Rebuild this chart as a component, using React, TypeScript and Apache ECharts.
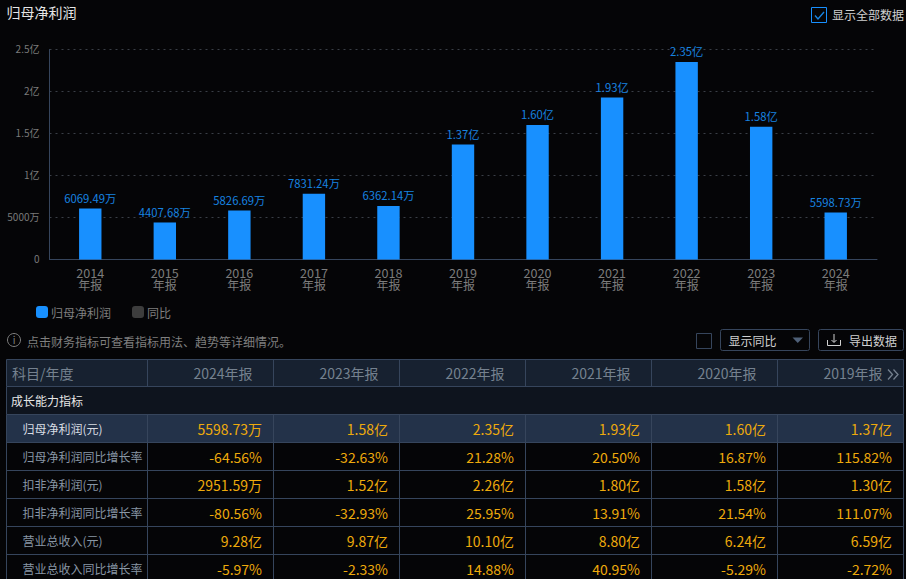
import React, { useEffect, useRef } from "react";
import * as echarts from "echarts";

const categories = ["2014", "2015", "2016", "2017", "2018", "2019", "2020", "2021", "2022", "2023", "2024"];
const profitWan = [6069.49, 4407.68, 5826.69, 7831.24, 6362.14, 13700, 16000, 19300, 23500, 15800, 5598.73];
const yearHeaders = ["2024年报", "2023年报", "2022年报", "2021年报", "2020年报", "2019年报"];
const rowNames = ["归母净利润(元)", "归母净利润同比增长率", "扣非净利润(元)", "扣非净利润同比增长率", "营业总收入(元)", "营业总收入同比增长率"];
const row1 = ["5598.73万", "1.58亿", "2.35亿", "1.93亿", "1.60亿", "1.37亿"];
const row2 = ["-64.56%", "-32.63%", "21.28%", "20.50%", "16.87%", "115.82%"];
const row3 = ["2951.59万", "1.52亿", "2.26亿", "1.80亿", "1.58亿", "1.30亿"];
const row4 = ["-80.56%", "-32.93%", "25.95%", "13.91%", "21.54%", "111.07%"];
const row5 = ["9.28亿", "9.87亿", "10.10亿", "8.80亿", "6.24亿", "6.59亿"];
const row6 = ["-5.97%", "-2.33%", "14.88%", "40.95%", "-5.29%", "-2.72%"];
const rows = [row1, row2, row3, row4, row5, row6];

const FONT = "'Noto Sans CJK SC', 'Noto Sans', sans-serif";
const LINE = "#36455c";
const colX = [6.5, 147.5, 273.5, 399.5, 525.5, 651.5, 777.5, 903.5];
const rowY = [359.5, 386.5, 414.5, 442.5, 470.5, 498.5, 526.5, 554.5, 582.5];

const fmtWan = (v: number) => (v >= 10000 ? (v / 10000).toFixed(2) + "亿" : v.toFixed(2) + "万");
const fmtTick = (v: number) => (v === 0 ? "0" : v >= 10000 ? v / 10000 + "亿" : v + "万");

const txt = (x: number, y: number, text: string, fill: string, fontSize = 12, align = "left") => ({
  type: "text",
  x,
  y,
  silent: true,
  style: { text, fill, fontSize, fontFamily: FONT, align, verticalAlign: "middle" },
});
const rect = (x: number, y: number, width: number, height: number, style: any, r = 0) => ({
  type: "rect",
  silent: true,
  shape: { x, y, width, height, r },
  style,
});
const seg = (x1: number, y1: number, x2: number, y2: number, stroke = LINE) => ({
  type: "line",
  silent: true,
  shape: { x1, y1, x2, y2 },
  style: { stroke, lineWidth: 1 },
});

function buildGraphic() {
  const g: any[] = [];
  // 标题与顶部复选框
  g.push(txt(6.5, 12, "归母净利润", "#e6e6e6", 14));
  g.push(rect(811.5, 7.5, 15, 15, { fill: "none", stroke: "#1890ff", lineWidth: 1 }));
  g.push({ type: "polyline", silent: true, shape: { points: [[815, 15.5], [818, 19], [824, 12]] }, style: { stroke: "#1783e0", fill: "none", lineWidth: 1.4 } });
  g.push(txt(832, 14.5, "显示全部数据", "#d0d0d0", 12));
  // 提示行
  g.push({ type: "circle", silent: true, shape: { cx: 14, cy: 340, r: 6.5 }, style: { fill: "none", stroke: "#7f7f7f", lineWidth: 1 } });
  g.push(txt(14, 339.5, "i", "#7f7f7f", 10, "center"));
  g.push(txt(27, 341, "点击财务指标可查看指标用法、趋势等详细情况。", "#7f7f7f", 12));
  // 工具按钮
  g.push(rect(696.5, 333.5, 15, 15, { fill: "none", stroke: LINE, lineWidth: 1 }));
  g.push(rect(720.5, 329.5, 89, 21, { fill: "none", stroke: LINE, lineWidth: 1 }, 2));
  g.push(txt(728.5, 340.5, "显示同比", "#d0d0d0", 12));
  g.push({ type: "polygon", silent: true, shape: { points: [[792.5, 337.5], [803, 337.5], [797.75, 343]] }, style: { fill: "#4f6078" } });
  g.push(rect(818.5, 329.5, 85, 21, { fill: "none", stroke: LINE, lineWidth: 1 }, 2));
  g.push({ type: "polyline", silent: true, shape: { points: [[827.5, 340], [827.5, 345.5], [840.5, 345.5], [840.5, 340]] }, style: { stroke: "#d0d0d0", fill: "none", lineWidth: 1 } });
  g.push(seg(834, 334, 834, 342, "#d0d0d0"));
  g.push({ type: "polyline", silent: true, shape: { points: [[831.5, 340], [834, 342.5], [836.5, 340]] }, style: { stroke: "#d0d0d0", fill: "none", lineWidth: 1 } });
  g.push(txt(849, 340.5, "导出数据", "#d0d0d0", 12));
  // 表格背景
  const tableW = colX[colX.length - 1] - colX[0];
  g.push(rect(colX[0], rowY[0], tableW, rowY[1] - rowY[0], { fill: "#172130" }));
  g.push(rect(colX[0], rowY[1], tableW, rowY[2] - rowY[1], { fill: "#0e141e" }));
  g.push(rect(colX[0], rowY[2], tableW, rowY[3] - rowY[2], { fill: "#233249" }));
  // 表格线
  rowY.forEach((y) => g.push(seg(colX[0], y, colX[colX.length - 1], y)));
  colX.forEach((x) => {
    g.push(seg(x, rowY[0], x, rowY[1]));
    if (x === colX[0] || x === colX[colX.length - 1]) g.push(seg(x, rowY[1], x, rowY[2]));
    g.push(seg(x, rowY[2], x, rowY[8]));
  });
  // 表头
  g.push(txt(12, 372.5, "科目/年度", "#75818f", 14));
  yearHeaders.forEach((h, i) => g.push(txt(colX[i + 2] - 21, 373, h, "#75818f", 14, "right")));
  g.push({ type: "polyline", silent: true, shape: { points: [[888, 369.5], [892.5, 374.5], [888, 379.5]] }, style: { stroke: "#75818f", fill: "none", lineWidth: 1.3 } });
  g.push({ type: "polyline", silent: true, shape: { points: [[893.5, 369.5], [898, 374.5], [893.5, 379.5]] }, style: { stroke: "#75818f", fill: "none", lineWidth: 1.3 } });
  g.push(txt(11, 400.5, "成长能力指标", "#e6e6e6", 12));
  // 数据行
  rowNames.forEach((name, r) => {
    const y = (rowY[r + 2] + rowY[r + 3]) / 2;
    g.push(txt(22.5, y, name, r === 0 ? "#d8dde3" : "#8896a5", 12));
    rows[r].forEach((v, c) => g.push(txt(colX[c + 2] - 11.5, y, v, "#eeaa0c", 14, "right")));
  });
  return g;
}

export default function App() {
  const ref = useRef<HTMLDivElement>(null);
  useEffect(() => {
    document.body.style.margin = "0";
    document.body.style.background = "#050507";
    const chart = echarts.init(ref.current!, undefined, { renderer: "svg" });
    chart.setOption({
      animation: false,
      backgroundColor: "#050507",
      textStyle: { fontFamily: FONT },
      grid: [
        { left: 49.5, right: 29, top: 49.5, bottom: 319.5 },
        { left: 53, right: 33, top: 49.5, bottom: 319.5 },
      ],
      legend: {
        left: 31,
        top: 301,
        itemWidth: 12,
        itemHeight: 12,
        itemGap: 21,
        textStyle: { color: "#7f7f7f", fontSize: 12, fontFamily: FONT, padding: [0, 0, 0, -2] },
        data: [
          { name: "归母净利润", icon: "roundRect" },
          { name: "同比", icon: "roundRect" },
        ],
      },
      xAxis: [
        {
          gridIndex: 0,
          type: "category",
          data: categories,
          axisLine: { lineStyle: { color: LINE } },
          axisTick: { show: false },
          axisLabel: { show: false },
        },
        {
          gridIndex: 1,
          type: "category",
          data: categories,
          axisLine: { show: false },
          axisTick: { show: false },
          axisLabel: {
            color: "#7c7c7c",
            margin: 6.5,
            interval: 0,
            formatter: (v: string) => `{y|${v}}\n{r|年报}`,
            rich: {
              y: { fontSize: 12.6, lineHeight: 12, color: "#7c7c7c", fontFamily: FONT },
              r: { fontSize: 12, lineHeight: 12, color: "#7c7c7c", fontFamily: FONT },
            },
          },
        },
      ],
      yAxis: [
        {
          gridIndex: 0,
          type: "value",
          min: 0,
          max: 25000,
          interval: 5000,
          axisLine: { show: true, lineStyle: { color: LINE } },
          axisTick: { show: false },
          axisLabel: { color: "#7a7a7a", fontSize: 10, margin: 10, fontFamily: FONT, formatter: fmtTick, verticalAlign: "bottom", lineHeight: 3 },
          splitLine: { lineStyle: { color: "#3a3f47", type: [2, 4] } },
        },
        {
          gridIndex: 1,
          type: "value",
          min: 0,
          max: 25000,
          interval: 5000,
          axisLine: { show: false },
          axisTick: { show: false },
          axisLabel: { show: false },
          splitLine: { show: false },
        },
      ],
      series: [
        {
          name: "归母净利润",
          type: "bar",
          xAxisIndex: 1,
          yAxisIndex: 1,
          data: profitWan,
          barWidth: 22.4,
          itemStyle: { color: "#1890ff" },
          label: {
            show: true,
            position: "top",
            distance: 5,
            color: "#1783e0",
            fontSize: 11.3,
            fontFamily: FONT,
            formatter: (p: any) => fmtWan(p.value),
          },
        },
        { name: "同比", type: "line", xAxisIndex: 1, yAxisIndex: 1, data: [], itemStyle: { color: "#3d3d3d" } },
      ],
      graphic: { elements: buildGraphic() },
    });
    return () => chart.dispose();
  }, []);
  return <div ref={ref} style={{ position: "absolute", left: 0, top: 0, width: 906, height: 579 }} />;
}
